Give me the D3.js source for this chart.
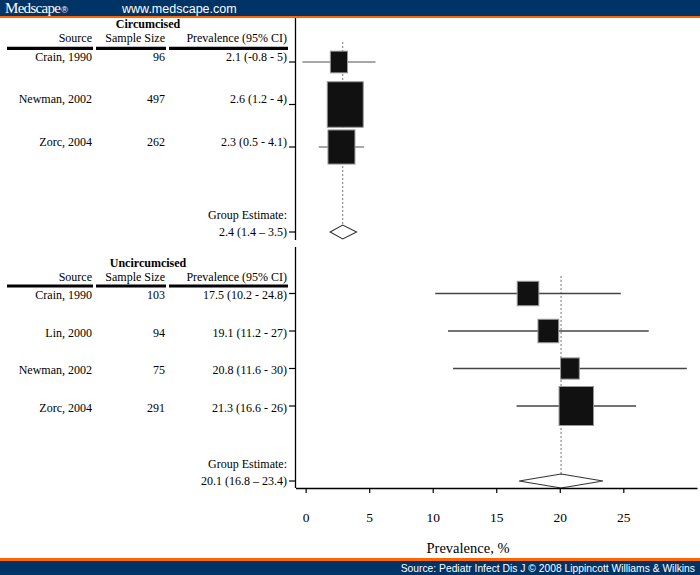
<!DOCTYPE html>
<html>
<head>
<meta charset="utf-8">
<script src="https://cdn.jsdelivr.net/npm/d3@7"></script>
<style>
  html, body { margin: 0; padding: 0; background: #fff; }
  svg { display: block; }
</style>
</head>
<body>
<svg id="chart" width="700" height="575"></svg>
<script>
// ---------- DATA ----------
const circSources = ["Crain, 1990", "Newman, 2002", "Zorc, 2004"];
const circN = [96, 497, 262];
const circEst = [2.1, 2.6, 2.3];
const circLow = [-0.8, 1.2, 0.5];
const circHigh = [5, 4, 4.1];
const circLabels = ["2.1 (-0.8 - 5)", "2.6 (1.2 - 4)", "2.3 (0.5 - 4.1)"];
const circGroup = [2.4, 1.4, 3.5];
const circGroupLabel = "2.4 (1.4 \u2013 3.5)";

const uncSources = ["Crain, 1990", "Lin, 2000", "Newman, 2002", "Zorc, 2004"];
const uncN = [103, 94, 75, 291];
const uncEst = [17.5, 19.1, 20.8, 21.3];
const uncLow = [10.2, 11.2, 11.6, 16.6];
const uncHigh = [24.8, 27, 30, 26];
const uncLabels = ["17.5 (10.2 - 24.8)", "19.1 (11.2 - 27)", "20.8 (11.6 - 30)", "21.3 (16.6 - 26)"];
const uncGroup = [20.1, 16.8, 23.4];
const uncGroupLabel = "20.1 (16.8 \u2013 23.4)";

const xTicks = [0, 5, 10, 15, 20, 25];
const xTitle = "Prevalence, %";
const colHeaders = ["Source", "Sample Size", "Prevalence (95% CI)"];

// ---------- SETUP ----------
const svg = d3.select("#chart");
const W = 700, H = 575;
const serif = "'Liberation Serif', 'Times New Roman', serif";
const sans = "'Liberation Sans', Arial, sans-serif";

// header / footer bands
svg.append("rect").attr("x", 0).attr("y", 0).attr("width", W).attr("height", 16).attr("fill", "#003366");
svg.append("rect").attr("x", 0).attr("y", 16).attr("width", W).attr("height", 2).attr("fill", "#ff6600");
svg.append("rect").attr("x", 0).attr("y", 558).attr("width", W).attr("height", 3).attr("fill", "#ff6600");
svg.append("rect").attr("x", 0).attr("y", 561).attr("width", W).attr("height", 14).attr("fill", "#003366");
const logo = svg.append("text").attr("x", 5).attr("y", 13).attr("fill", "#fff")
  .style("font-family", serif).style("font-size", "15px").style("letter-spacing", "-0.7px");
logo.append("tspan").text("Medscape");
logo.append("tspan").style("font-size", "9px").style("font-family", sans).attr("dx", 1).text("\u00AE");
svg.append("text").attr("x", 122).attr("y", 13).attr("fill", "#fff")
  .style("font-family", sans).style("font-size", "12.5px")
  .text("www.medscape.com");
svg.append("text").attr("x", 695).attr("y", 572).attr("fill", "#fff").attr("text-anchor", "end")
  .style("font-family", sans).style("font-size", "10.3px")
  .text("Source: Pediatr Infect Dis J \u00A9 2008 Lippincott Williams & Wilkins");

// scales
const xBot = d3.scaleLinear().domain([-0.8, 30.8]).range([295.5, 697]);
const xTop = d3.scaleLinear().domain([-0.8, 30.8]).range([302.4, 700.6]);
const yTop = d3.scaleLinear().domain([0, 1]).range([62, 104.5]);
const yBot = d3.scaleLinear().domain([0, 1]).range([293.5, 331]);

const wTop = d3.scalePow().exponent(0.45).domain([0, d3.max(circN)]).range([0, 36]);
const hTop = d3.scalePow().exponent(0.45).domain([0, d3.max(circN)]).range([0, 45.5]);
const wBot = d3.scalePow().exponent(0.45).domain([0, d3.max(uncN)]).range([0, 34.5]);
const hBot = d3.scalePow().exponent(0.45).domain([0, d3.max(uncN)]).range([0, 39]);

const colRight = [92, 165, 287];
const colSeg = [[7, 93], [96, 166], [169, 288]];

function panel(opts) {
  const g = svg.append("g");
  const { title, titleY, headY, lineY, sources, ns, est, low, high, labels, group, groupLabel,
          x, y, wS, hS, groupIdx, axisTop, axisBottom, textDy, ciColor, dotTop } = opts;

  // table header
  g.append("text").attr("x", 148).attr("y", titleY).attr("text-anchor", "middle")
    .style("font-family", serif).style("font-size", "12px").style("font-weight", "bold").text(title);
  colHeaders.forEach((h, i) => {
    g.append("text").attr("x", colRight[i]).attr("y", headY).attr("text-anchor", "end")
      .style("font-family", serif).style("font-size", "12px").text(h);
  });
  colSeg.forEach(s => {
    g.append("line").attr("x1", s[0]).attr("x2", s[1]).attr("y1", lineY).attr("y2", lineY)
      .attr("stroke", "#000").attr("stroke-width", 3.2);
  });

  // rows text
  sources.forEach((s, i) => {
    const yy = y(i) + textDy;
    g.append("text").attr("x", colRight[0]).attr("y", yy).attr("text-anchor", "end")
      .style("font-family", serif).style("font-size", "12px").text(s);
    g.append("text").attr("x", colRight[1]).attr("y", yy).attr("text-anchor", "end")
      .style("font-family", serif).style("font-size", "12px").text(ns[i]);
    g.append("text").attr("x", colRight[2]).attr("y", yy).attr("text-anchor", "end")
      .style("font-family", serif).style("font-size", "12px").text(labels[i]);
  });
  const gy = y(groupIdx);
  g.append("text").attr("x", colRight[2]).attr("y", gy - 13).attr("text-anchor", "end")
    .style("font-family", serif).style("font-size", "12px").text("Group Estimate:");
  g.append("text").attr("x", colRight[2]).attr("y", gy + 3.5).attr("text-anchor", "end")
    .style("font-family", serif).style("font-size", "12px").text(groupLabel);

  // vertical axis with ticks
  g.append("line").attr("x1", 295.5).attr("x2", 295.5).attr("y1", axisTop).attr("y2", axisBottom)
    .attr("stroke", "#000").attr("stroke-width", 1.3);
  const tickRows = d3.range(sources.length).concat([groupIdx]);
  tickRows.forEach(i => {
    g.append("line").attr("x1", 289).attr("x2", 295.5).attr("y1", y(i)).attr("y2", y(i))
      .attr("stroke", "#000").attr("stroke-width", 1.2);
  });

  // dotted reference line
  g.append("line").attr("x1", x(group[0])).attr("x2", x(group[0]))
    .attr("y1", dotTop).attr("y2", gy - 7)
    .attr("stroke", "#777").attr("stroke-width", 1).attr("stroke-dasharray", "2,2");

  // CI lines
  sources.forEach((s, i) => {
    g.append("line").attr("x1", x(low[i])).attr("x2", x(high[i])).attr("y1", y(i)).attr("y2", y(i))
      .attr("stroke", ciColor).attr("stroke-width", 1.3);
  });
  // boxes
  sources.forEach((s, i) => {
    const w = wS(ns[i]), h = hS(ns[i]);
    g.append("rect").attr("x", x(est[i]) - w / 2).attr("y", y(i) - h / 2)
      .attr("width", w).attr("height", h)
      .attr("fill", "#111").attr("stroke", "#999").attr("stroke-width", 1);
  });
  // diamond
  const d = [[x(group[1]), gy], [x(group[0]), gy - 7], [x(group[2]), gy], [x(group[0]), gy + 7]];
  g.append("path").attr("d", "M" + d.map(p => p.join(",")).join("L") + "Z")
    .attr("fill", "#fff").attr("stroke", "#333").attr("stroke-width", 1.1);
}

panel({
  title: "Circumcised", titleY: 28.3, headY: 42.3, lineY: 48.3,
  sources: circSources, ns: circN, est: circEst, low: circLow, high: circHigh,
  labels: circLabels, group: circGroup, groupLabel: circGroupLabel,
  x: xTop, y: yTop, wS: wTop, hS: hTop, groupIdx: 4,
  axisTop: 18, axisBottom: 240, textDy: -1.5, ciColor: "#8a8a8a", dotTop: 42
});

panel({
  title: "Uncircumcised", titleY: 267.3, headY: 280.7, lineY: 286,
  sources: uncSources, ns: uncN, est: uncEst, low: uncLow, high: uncHigh,
  labels: uncLabels, group: uncGroup, groupLabel: uncGroupLabel,
  x: xBot, y: yBot, wS: wBot, hS: hBot, groupIdx: 5,
  axisTop: 247, axisBottom: 488, textDy: 5.5, ciColor: "#444", dotTop: 276
});

// x axis
const axisG = svg.append("g").attr("transform", "translate(0,488)")
  .call(d3.axisBottom(xBot).tickValues(xTicks).tickSize(5).tickPadding(19).tickSizeOuter(0));
axisG.select(".domain").attr("stroke", "#000").attr("stroke-width", 1.3);
axisG.selectAll(".tick line").attr("stroke", "#000").attr("stroke-width", 1.2);
axisG.selectAll(".tick text").style("font-family", serif).style("font-size", "13.5px").attr("fill", "#000");

svg.append("text").attr("x", 468).attr("y", 553).attr("text-anchor", "middle")
  .style("font-family", serif).style("font-size", "14.5px").text(xTitle);
</script>
</body>
</html>
